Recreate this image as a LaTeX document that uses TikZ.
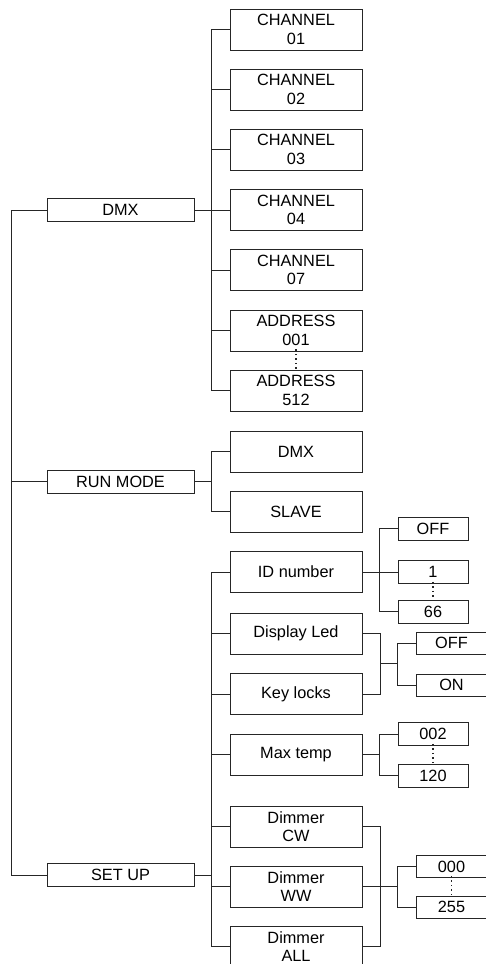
\documentclass[tikz,border=0pt]{standalone}
\usepackage{fontspec}
\setmainfont{Liberation Sans}
\begin{document}
\begin{tikzpicture}[x=1pt,y=-1pt,
  line width=0.9pt, draw=black!85,
  box/.style={draw=black!85, line width=0.9pt, inner sep=0pt, align=center, fill=white,
    font=\fontsize{16.3}{18.5}\selectfont},
  bigbox/.style={box, minimum width=132pt, minimum height=41pt},
  mainbox/.style={box, minimum width=147pt, minimum height=23pt},
  smallbox/.style={box, minimum width=70pt, minimum height=23pt},
  widebox/.style={box, minimum width=71pt, minimum height=22pt},
  dots/.style={line width=1.5pt, dash pattern=on 1.5pt off 3pt}]
\useasboundingbox (0,0) rectangle (485,964);
% main boxes
\node[mainbox] (m1) at (120.5,210) {DMX};
\node[mainbox] (m2) at (120.5,481.5) {RUN MODE};
\node[mainbox] (m3) at (120.5,875) {SET UP};
% DMX children
\node[bigbox] (c1) at (296,29.5) {CHANNEL\\01};
\node[bigbox] (c2) at (296,89.5) {CHANNEL\\02};
\node[bigbox] (c3) at (296,149.5) {CHANNEL\\03};
\node[bigbox] (c4) at (296,210) {CHANNEL\\04};
\node[bigbox] (c5) at (296,270) {CHANNEL\\07};
\node[bigbox] (a1) at (296,330.5) {ADDRESS\\001};
\node[bigbox] (a2) at (296,390.5) {ADDRESS\\512};
% RUN MODE children
\node[bigbox] (r1) at (296,451.5) {DMX};
\node[bigbox] (r2) at (296,511.5) {SLAVE};
% SET UP children
\node[bigbox] (s1) at (296,572) {ID number};
\node[bigbox] (s2) at (296,633.5) {Display Led};
\node[bigbox] (s3) at (296,694) {Key locks};
\node[bigbox] (s4) at (296,754.5) {Max temp};
\node[bigbox] (s5) at (296,826.5) {Dimmer\\CW};
\node[bigbox] (s6) at (296,886.5) {Dimmer\\WW};
\node[bigbox] (s7) at (296,946.5) {Dimmer\\ALL};
% ID values
\node[smallbox] (i1) at (433,528.5) {OFF};
\node[smallbox] (i2) at (433,572) {1};
\node[smallbox] (i3) at (433,611.5) {66};
% Display/Key values
\node[widebox] (o1) at (451.5,643) {OFF};
\node[widebox] (o2) at (451.5,685) {ON};
% Max temp values
\node[smallbox] (t1) at (433,734) {002};
\node[smallbox] (t2) at (433,775.5) {120};
% Dimmer values
\node[widebox] (d1) at (451.5,866.5) {000};
\node[widebox] (d2) at (451.5,907) {255};
% main trunk
\draw (m1.west) -- ++(-35,0) |- (m3.west);
\draw (m2.west) -- ++(-35,0);
% DMX branch
\draw (c1.west) -- ++(-18,0) |- (a2.west);
\draw (m1.east) -- (c4.west);
\foreach \n in {c2,c3,c5,a1} \draw (\n.west) -- ++(-18,0);
% RUN MODE branch
\draw (r1.west) -- ++(-18,0) |- (r2.west);
\draw (m2.east) -- ++(18,0);
% SET UP branch
\draw (s1.west) -- ++(-18,0) |- (s7.west);
\draw (m3.east) -- ++(18,0);
\foreach \n in {s2,s3,s4,s5,s6} \draw (\n.west) -- ++(-18,0);
% ID
\draw (s1.east) -- (i2.west);
\draw (i1.west) -- ++(-18,0) |- (i3.west);
% Display / Key
\draw (s2.east) -- ++(18,0) |- (s3.east);
\coordinate (jk) at (380,663.5);
\draw (jk) -- ++(18,0);
\draw (o1.west) -- ++(-18,0) |- (o2.west);
% Max temp
\draw (s4.east) -- ++(18,0);
\draw (t1.west) -- ++(-18,0) |- (t2.west);
% Dimmer
\draw (s5.east) -- ++(18,0) |- (s7.east);
\draw (s6.east) -- ++(36,0);
\draw (d1.west) -- ++(-18,0) |- (d2.west);
% dots
\draw[dots] ([yshift=2pt]a1.south) -- (a2.north);
\draw[dots] ([yshift=2pt]i2.south) -- (i3.north);
\draw[dots] ([yshift=2pt]t1.south) -- (t2.north);
\draw[dots] ([yshift=2pt]d1.south) -- (d2.north);
\end{tikzpicture}
\end{document}
